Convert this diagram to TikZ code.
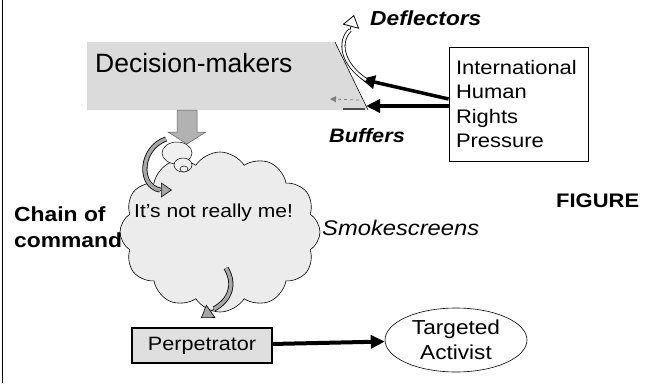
\documentclass[tikz,border=0pt]{standalone}
\usepackage{fontspec}
\setmainfont{Liberation Sans}[FakeStretch=1.12]
\newfontfamily\plainsans{Liberation Sans}
\usetikzlibrary{shapes.symbols,shapes.geometric,arrows.meta}

\tikzset{
  txt/.style={inner sep=0pt, anchor=west, font=\fontsize{20}{24}\selectfont},
  pressure/.style={line width=3.5pt, -{Triangle[length=14pt,width=13pt]}},
  hollowshaft/.style={line width=0.8pt, double=white, double distance=2.4pt},
  greyshaft/.style={line width=0.8pt, double=gray!70, double distance=3.5pt},
  blockarrow/.style={fill=gray!60, draw=gray!75!black, line width=0.5pt},
  bubble/.style={ellipse, draw, line width=0.5pt, fill=gray!12, inner sep=0pt}
}

\begin{document}
\begin{tikzpicture}[x=1pt,y=-1pt]
\useasboundingbox (0,0) rectangle (658,383);

% frame edge on the left
\draw[line width=1pt] (2.5,0) -- (2.5,383);

% decision-makers panel with its slanted shield edge
\fill[gray!28] (87,42) -- (335,42) -- (367,110) -- (87,110) -- cycle;
\draw[line width=0.6pt] (335,42) -- (368,110);
\draw[gray!60!black, line width=1.5pt] (343,109) -- (365,109);
\node[txt, font=\plainsans\fontsize{26.5}{30}\selectfont] (dm) at (95,63) {Decision-makers};

% pressure box
\node[draw, line width=0.8pt, text width=125pt, inner xsep=7pt, minimum height=114pt,
      align=left, font=\fontsize{19.6}{24.5}\selectfont] (ihrp) at (518.5,104)
      {International\\Human\\Rights\\Pressure};

\coordinate (hitA) at (361,79);
\coordinate (hitB) at (366,106);
\draw[pressure] ([yshift=5pt]ihrp.west) -- (hitA);
\draw[pressure] ([yshift=-2pt]ihrp.west) -- (hitB);

% buffered pressure, passed on weakly
\coordinate (bufA) at (359,100);
\coordinate (bufB) at (330,99);
\draw[gray, dashed, line width=0.8pt, -{Triangle[length=6pt,width=6pt]}] (bufA) -- (bufB);

% deflected pressure
\coordinate (defA) at (366,80);
\coordinate (defB) at (350,30);
\coordinate (defC) at (354,15);
\draw[hollowshaft] (defA) .. controls (342,64) and (338,42) .. (defB);
\draw[line width=0.8pt, -{Triangle[open, fill=white, length=12pt, width=17pt]}] (defB) -- (defC);

\node[txt, font=\bfseries\itshape\fontsize{20.3}{24}\selectfont] (defl) at (370,18) {Deflectors};
\node[txt, font=\bfseries\itshape\fontsize{19.4}{24}\selectfont] (buff) at (329,136) {Buffers};

% block arrow down from the decision-makers
\draw[blockarrow] (177,110) -- (177,132) -- (168,132) -- (187,144) -- (206,132) -- (197,132) -- (197,110) -- cycle;

% smokescreen cloud
\node[cloud, cloud puffs=12, cloud puff arc=115, aspect=1.25, draw, line width=0.6pt,
      fill=gray!15, minimum width=200pt, minimum height=160pt] (cl) at (220,232) {};
\node[bubble, minimum width=30pt, minimum height=22pt] (b1) at (177,153) {};
\node[bubble, minimum width=18pt, minimum height=14pt] (b2) at (183,165) {};
\node[bubble, minimum width=8pt, minimum height=6pt] (b3) at (184,169) {};

\node[txt, font=\fontsize{18.8}{24}\selectfont] (talk) at (134,213) {It’s not really me!};
\node[txt, font=\itshape\fontsize{21.2}{26}\selectfont] (smoke) at (322,228) {Smokescreens};
\node[txt, align=left, font=\bfseries\fontsize{20.4}{26}\selectfont] (chain) at (14,227) {Chain of\\command};
\node[txt, font=\bfseries\fontsize{19.6}{23}\selectfont] (fig) at (556,201) {FIGURE};

% chain-of-command arrow beside the bubbles
\coordinate (ccA) at (166,139);
\coordinate (ccB) at (160,190);
\coordinate (ccC) at (172,190);
\draw[greyshaft] (ccA) .. controls (140,148) and (138,186) .. (ccB);
\draw[line width=0.6pt, -{Triangle[fill=gray!70, length=11pt, width=15pt]}] (ccB) -- (ccC);

% perpetrator and target
\node[draw, line width=1.5pt, fill=gray!25, minimum width=140pt, minimum height=35pt,
      inner sep=0pt, font=\fontsize{19.3}{24}\selectfont] (perp) at (202,345.5) {Perpetrator\hspace{14pt}};
\node[ellipse, draw, line width=0.6pt, minimum width=142pt, minimum height=64pt, inner sep=0pt,
      align=center, font=\fontsize{20.2}{24.5}\selectfont] (tgt) at (456,340) {Targeted\\Activist};

% order passed down from the cloud
\coordinate (dnA) at (226,268);
\coordinate (dnB) at (214,309);
\draw[greyshaft] (dnA) .. controls (236,285) and (230,300) .. (dnB);
\draw[line width=0.6pt, -{Triangle[fill=gray!70, length=12pt, width=16pt]}] (dnB) -- (201,318);

\draw[line width=4pt, -{Triangle[length=14pt,width=13pt]}] (perp) -- (tgt);
\end{tikzpicture}
\end{document}
